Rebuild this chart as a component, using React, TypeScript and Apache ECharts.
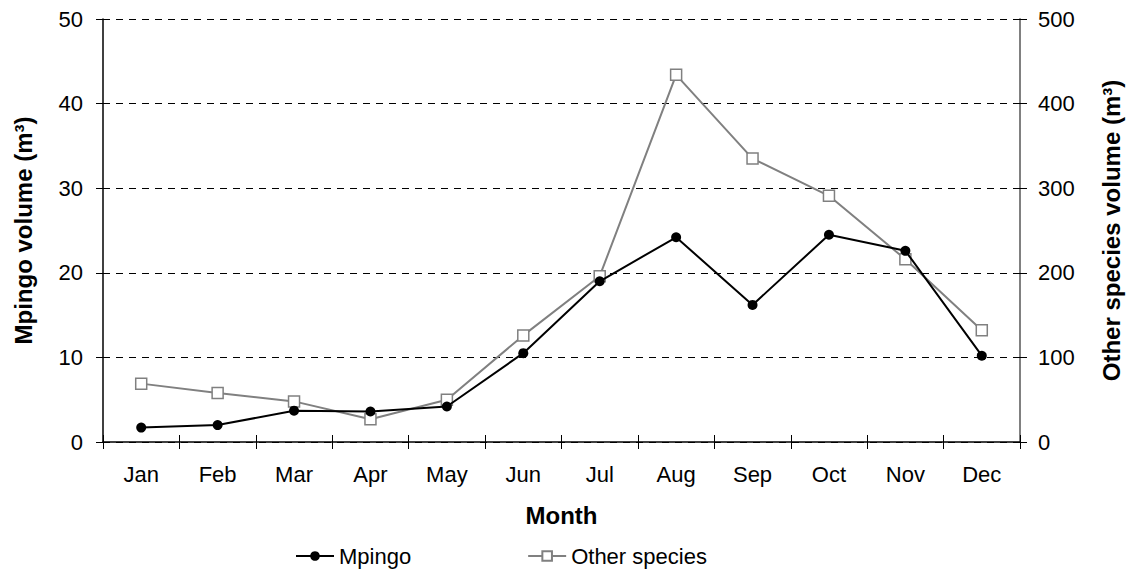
import React, { useEffect, useRef } from "react";
import * as echarts from "echarts";

const months = ["Jan", "Feb", "Mar", "Apr", "May", "Jun", "Jul", "Aug", "Sep", "Oct", "Nov", "Dec"];
const mpingo = [1.7, 2.0, 3.7, 3.6, 4.2, 10.5, 19.0, 24.2, 16.2, 24.5, 22.6, 10.2];
const otherSpecies = [69, 58, 48, 27, 50, 126, 196, 434, 335, 291, 216, 132];

const FONT = "Liberation Sans, Arial, sans-serif";

export default function App() {
  const ref = useRef<HTMLDivElement>(null);
  useEffect(() => {
    const chart = echarts.init(ref.current!, null, { renderer: "svg" });
    const tickStyle = { color: "#000", width: 1 };
    const labelStyle = { fontFamily: FONT, fontSize: 22, color: "#000" };
    const nameStyle = { fontFamily: FONT, fontSize: 24, fontWeight: "bold", color: "#000" };
    chart.setOption({
      animation: false,
      textStyle: { fontFamily: FONT },
      grid: { left: 103, right: 112, top: 19, bottom: 129, containLabel: false },
      legend: {
        left: 295,
        top: 544,
        padding: 0,
        itemWidth: 38,
        itemHeight: 12,
        itemGap: 116,
        textStyle: { fontFamily: FONT, fontSize: 22, color: "#000", lineHeight: 24 },
        data: ["Mpingo", "Other species"],
      },
      xAxis: [
        {
          type: "category",
          data: months,
          boundaryGap: true,
          axisLine: { show: true, lineStyle: { color: "#000", width: 1.5 } },
          axisTick: { show: true, length: 7, inside: false, lineStyle: tickStyle },
          axisLabel: { ...labelStyle, margin: 21 },
          name: "Month",
          nameLocation: "middle",
          nameGap: 61,
          nameTextStyle: nameStyle,
          splitLine: { show: false },
        },
        {
          type: "category",
          data: months,
          boundaryGap: true,
          position: "bottom",
          axisLine: { show: false },
          axisTick: { show: true, length: 7, inside: true, lineStyle: tickStyle },
          axisLabel: { show: false },
          splitLine: { show: false },
        },
      ],
      yAxis: [
        {
          type: "value",
          min: 0,
          max: 50,
          interval: 10,
          position: "left",
          axisLine: { show: true, lineStyle: { color: "#000", width: 1.5 } },
          axisTick: { show: true, length: 7, lineStyle: tickStyle },
          axisLabel: { ...labelStyle, margin: 20 },
          splitLine: { show: true, lineStyle: { color: "#000", type: [7, 6], width: 1 } },
          name: "Mpingo volume (m³)",
          nameLocation: "middle",
          nameGap: 68,
          nameTextStyle: nameStyle,
        },
        {
          type: "value",
          min: 0,
          max: 500,
          interval: 100,
          position: "right",
          axisLine: { show: true, lineStyle: { color: "#808080", width: 2 } },
          axisTick: { show: true, length: 7, lineStyle: tickStyle },
          axisLabel: { ...labelStyle, margin: 18 },
          splitLine: { show: false },
          name: "Other species volume (m³)",
          nameLocation: "middle",
          nameGap: 79,
          nameRotate: 90,
          nameTextStyle: nameStyle,
        },
        {
          type: "value",
          min: 0,
          max: 50,
          interval: 10,
          position: "left",
          axisLine: { show: false },
          axisTick: { show: true, length: 7, inside: true, lineStyle: tickStyle },
          axisLabel: { show: false },
          splitLine: { show: false },
        },
        {
          type: "value",
          min: 0,
          max: 500,
          interval: 100,
          position: "right",
          axisLine: { show: false },
          axisTick: { show: true, length: 7, inside: true, lineStyle: tickStyle },
          axisLabel: { show: false },
          splitLine: { show: false },
        },
      ],
      series: [
        {
          name: "Mpingo",
          type: "line",
          data: mpingo,
          xAxisIndex: 0,
          yAxisIndex: 0,
          symbol: "circle",
          symbolSize: 10,
          z: 3,
          lineStyle: { color: "#000", width: 2 },
          itemStyle: { color: "#000" },
        },
        {
          name: "Other species",
          type: "line",
          data: otherSpecies,
          xAxisIndex: 0,
          yAxisIndex: 1,
          symbol: "rect",
          symbolSize: 11,
          z: 2,
          lineStyle: { color: "#808080", width: 2 },
          itemStyle: { color: "#fff", borderColor: "#808080", borderWidth: 1.5 },
        },
      ],
    });
    return () => chart.dispose();
  }, []);
  return <div ref={ref} style={{ width: 1132, height: 571, position: "absolute", left: 0, top: 0 }} />;
}
